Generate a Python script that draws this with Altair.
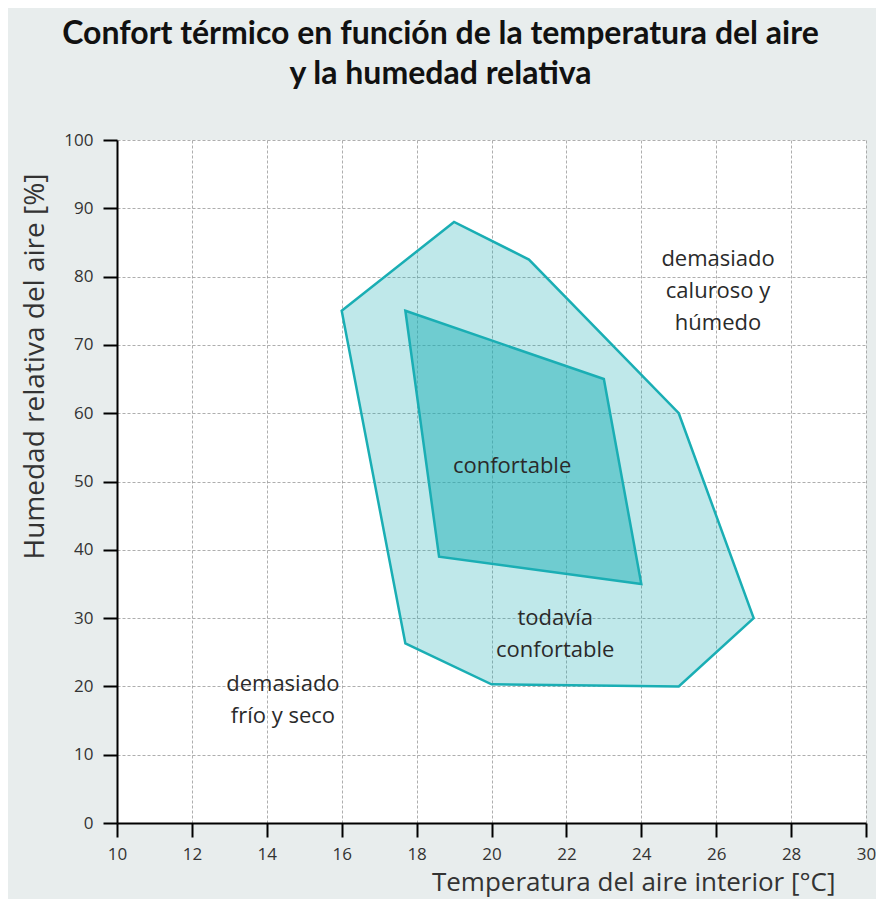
import altair as alt
import pandas as pd

# Data
outer_temp = [16, 19, 21, 25, 27, 25, 20, 17.7]
outer_hum = [75, 88, 82.5, 60, 30, 20, 20.3, 26.3]
inner_temp = [17.7, 23, 24, 18.6]
inner_hum = [75, 65, 35, 39]

label_text = ["demasiado\ncaluroso y\nhúmedo", "confortable", "todavía\nconfortable", "demasiado\nfrío y seco"]
label_temp = [26.05, 20.55, 21.7, 14.43]
label_hum = [82.6, 52.3, 30.0, 20.35]

x_ticks = list(range(10, 31, 1))
y_ticks = list(range(0, 101, 5))

outer_df = pd.DataFrame({"t": outer_temp, "h": outer_hum, "i": range(len(outer_temp))})
inner_df = pd.DataFrame({"t": inner_temp, "h": inner_hum, "i": range(len(inner_temp))})
label_df = pd.DataFrame({"t": label_temp, "h": label_hum, "txt": label_text})

FONT = "Open Sans"
TEAL = "#1aaeb4"

x_enc = alt.X("t:Q", scale=alt.Scale(domain=[10, 30], nice=False),
              axis=alt.Axis(values=x_ticks,
                            labelExpr="datum.value % 2 == 0 ? datum.label : ''",
                            tickOpacity={"expr": "datum.value % 2 == 0 ? 1 : 0"},
                            title="Temperatura del aire interior [°C]",
                            titleX=718, titleY=67, titleAlign="right", titleBaseline="alphabetic",
                            titleFontSize=26,
                            labelPadding=9, labelFlush=False))
y_enc = alt.Y("h:Q", scale=alt.Scale(domain=[0, 100], nice=False),
              axis=alt.Axis(values=y_ticks,
                            labelExpr="datum.value % 10 == 0 ? datum.label : ''",
                            tickOpacity={"expr": "datum.value % 10 == 0 ? 1 : 0"},
                            title="Humedad relativa del aire [%]",
                            titleX=-82, titleY=226, titleAngle=270,
                            titleAlign="center", titleBaseline="middle",
                            titleFontSize=28,
                            labelPadding=10, labelFlush=False))

outer = alt.Chart(outer_df).mark_line(
    interpolate="linear-closed", stroke=TEAL, strokeWidth=2.5,
    fill=TEAL, fillOpacity=0.28
).encode(x=x_enc, y=y_enc, order="i:O")

inner = alt.Chart(inner_df).mark_line(
    interpolate="linear-closed", stroke=TEAL, strokeWidth=2.5,
    fill=TEAL, fillOpacity=0.48
).encode(x="t:Q", y="h:Q", order="i:O")

labels = alt.Chart(label_df).mark_text(
    font=FONT, fontSize=22, color="#2a2a2a", align="center", baseline="middle",
    lineBreak="\n", lineHeight=32
).encode(x="t:Q", y="h:Q", text="txt:N")

chart = alt.layer(outer, inner, labels).properties(
    width=749, height=683,
    autosize="none",
    padding={"left": 109, "top": 132, "right": 10, "bottom": 76},
    background="#e8eded",
    title=alt.TitleParams(
        ["Confort térmico en función de la temperatura del aire", "y la humedad relativa"],
        font="Lato", fontSize=32, fontWeight="bold", color="#111111",
        anchor="middle", dx=-51, offset=8, lineHeight=40, baseline="bottom",
    ),
).configure_view(fill="white", stroke=None).configure_axis(
    domainColor="black", domainWidth=2,
    tickColor="black", tickWidth=2, tickSize=14,
    gridColor="#9a9a9a", gridDash=[3, 2], gridWidth=1, gridOpacity=0.8,
    labelFont=FONT, labelFontSize=17, labelColor="#333333",
    titleFont=FONT, titleFontWeight="normal", titleColor="#333333",
)

chart.save("out.html", embed_options={"renderer": "svg", "actions": False})
